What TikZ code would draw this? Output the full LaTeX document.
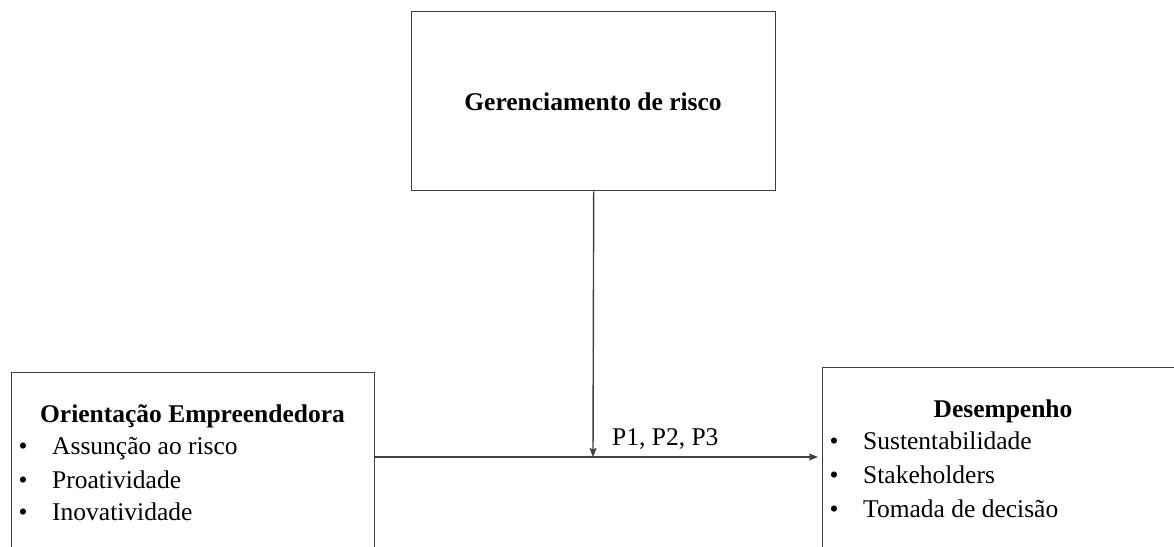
\documentclass[tikz,border=0pt]{standalone}
\usepackage{fontspec}
\setmainfont{Liberation Serif}
\usetikzlibrary{arrows.meta}
\tikzset{
  box/.style={draw=black!75, line width=1.4pt, fill=none, inner sep=0pt, anchor=north west},
  txt/.style={inner sep=0pt, anchor=base west, font=\fontsize{25.5}{30}\selectfont},
  ttl/.style={inner sep=0pt, anchor=base, font=\fontsize{25.5}{30}\selectfont\bfseries},
  bul/.style={inner sep=0pt, anchor=base, font=\fontsize{25.5}{30}\selectfont},
  conn/.style={draw=black!75, line width=1.4pt, -{Stealth[length=9pt,width=7pt,inset=1.5pt]}}
}
\begin{document}
\begin{tikzpicture}[x=1pt,y=-1pt]
\useasboundingbox (0,0) rectangle (1174,546);
\clip (0,0) rectangle (1174,546);
\fill[white] (0,0) rectangle (1174,546);
% boxes
\node[box, minimum width=364pt, minimum height=179pt] (G) at (411,11) {};
\node[box, minimum width=363pt, minimum height=200pt] (O) at (11,372) {};
\node[box, minimum width=380pt, minimum height=200pt] (D) at (822,367) {};
% top text
\node[ttl] (gt) at (593,110) {Gerenciamento de risco};
% left texts
\node[ttl] (ot) at (192.5,422) {Orientação Empreendedora};
\node[bul] (ob1) at (23,454) {•};
\node[bul] (ob2) at (23,488) {•};
\node[bul] (ob3) at (23,520) {•};
\node[txt] (o1) at (52,454) {Assunção ao risco};
\node[txt] (o2) at (52,488) {Proatividade};
\node[txt] (o3) at (52,520) {Inovatividade};
% right texts
\node[ttl] (dt) at (1003,417) {Desempenho};
\node[bul] (db1) at (834,449) {•};
\node[bul] (db2) at (834,483) {•};
\node[bul] (db3) at (834,517) {•};
\node[txt] (d1) at (863,449) {Sustentabilidade};
\node[txt] (d2) at (863,483) {Stakeholders};
\node[txt] (d3) at (863,517) {Tomada de decisão};
% connectors
\coordinate (J) at (593,457);
\draw[conn] (G.south) -- (J);
\draw[conn, shorten >=4pt] (O.east |- J) -- (D.west |- J);
\node[txt] (p) at (612,445) {P1, P2, P3};
\end{tikzpicture}
\end{document}
